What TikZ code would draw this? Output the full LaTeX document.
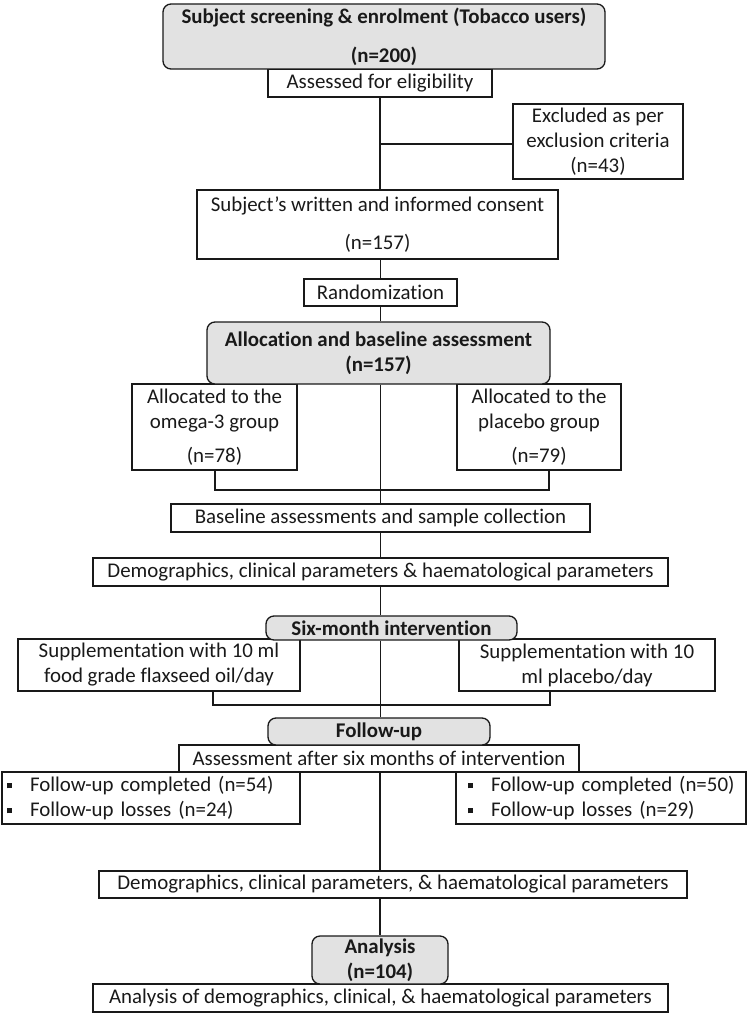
\documentclass[tikz,border=0pt]{standalone}
\usepackage{fontspec}
\setmainfont{Carlito}[Ligatures=NoCommon]
\definecolor{boxgray}{RGB}{226,226,226}
\definecolor{ink}{RGB}{25,25,25}
\tikzset{
  base/.style={draw=ink, line width=1.3pt, inner sep=2pt, align=center,
    font=\fontsize{20.9}{25}\selectfont, text=ink},
  plainbox/.style={base, rectangle},
  headbox/.style={base, rectangle, rounded corners=8pt, fill=boxgray,
    font=\fontsize{20.9}{25}\selectfont\bfseries},
  listbox/.style={base, rectangle, align=left},
  link/.style={draw=ink, line width=1.3pt},
}
\newcommand{\bul}{\raisebox{3pt}{\rule{5pt}{5pt}}\hspace{18pt}}
\begin{document}
\begin{tikzpicture}[x=1pt, y=-1pt]
\useasboundingbox (0,0) rectangle (750,1024);
% nodes
\node[plainbox, minimum width=224pt, minimum height=28pt] (assess) at (380,83) {Assessed for eligibility};
\node[headbox, minimum width=442pt, minimum height=65pt] (top) at (384,36.5) {Subject screening \& enrolment (Tobacco users)\\[14pt](n=200)};
\node[plainbox, minimum width=170pt, minimum height=75pt] (excl) at (598,141.5) {Excluded as per\\exclusion criteria\\(n=43)};
\node[plainbox, minimum width=361pt, minimum height=69pt] (consent) at (377.5,224.5) {Subject’s written and informed consent\\[13pt](n=157)};
\node[plainbox, minimum width=153pt, minimum height=27pt] (random) at (380.5,292.5) {Randomization};
\node[plainbox, minimum width=165pt, minimum height=86pt] (om3) at (214.5,427) {Allocated to the\\omega-3 group\\[9pt](n=78)};
\node[plainbox, minimum width=164pt, minimum height=86pt] (plac) at (539,427) {Allocated to the\\placebo group\\[9pt](n=79)};
\node[headbox, minimum width=343pt, minimum height=62pt] (alloc) at (378.5,353) {Allocation and baseline assessment\\(n=157)};
\node[plainbox, minimum width=419pt, minimum height=28pt] (baseline) at (380.5,518) {Baseline assessments and sample collection};
\node[plainbox, minimum width=575pt, minimum height=28pt] (demo1) at (380.5,572) {Demographics, clinical parameters \& haematological parameters};
\node[plainbox, minimum width=282pt, minimum height=52pt] (supL) at (159,665) {Supplementation with 10 ml\\food grade flaxseed oil/day};
\node[plainbox, minimum width=256pt, minimum height=52pt] (supR) at (587,665) {Supplementation with 10\\ml placebo/day};
\node[headbox, minimum width=251pt, minimum height=24pt] (six) at (391.5,628) {Six-month intervention};
\node[plainbox, minimum width=400pt, minimum height=27pt] (assess6) at (379,758.5) {Assessment after six months of intervention};
\node[headbox, minimum width=222pt, minimum height=27pt] (follow) at (379,731.5) {Follow-up};
\node[listbox, minimum width=298pt, minimum height=52pt, text width=288pt, inner xsep=5pt] (fuL) at (151,798) {\mbox{\bul Follow-up completed (n=54)}\\\mbox{\bul Follow-up losses (n=24)}};
\node[listbox, minimum width=290pt, minimum height=52pt, text width=266pt, inner xsep=12pt] (fuR) at (601,798) {\mbox{\bul Follow-up completed (n=50)}\\\mbox{\bul Follow-up losses (n=29)}};
\node[plainbox, minimum width=588pt, minimum height=27pt] (demo2) at (393,884.5) {Demographics, clinical parameters, \& haematological parameters};
\node[plainbox, minimum width=575pt, minimum height=28pt] (final) at (380.5,998) {Analysis of demographics, clinical, \& haematological parameters};
\node[headbox, minimum width=136pt, minimum height=48pt] (analysis) at (380,960) {Analysis\\(n=104)};
% coordinates on the spine
\coordinate (c1) at (380,144);
\coordinate (c2) at (215,490);
\coordinate (c3) at (549,490);
\coordinate (c4) at (213,705);
\coordinate (c5) at (550,705);
% connectors
\draw[link] (assess.south) -- (assess.south |- consent.north);
\draw[link] (c1) -- (excl.west |- c1);
\draw[link] (consent.south -| random.north) -- (random.north);
\draw[link] (random.south) -- (random.south |- alloc.north);
\draw[link] (alloc.south -| random.south) -- (random.south |- baseline.north);
\draw[link] (om3.south -| c2) -- (c2) -- (c3) -- (plac.south -| c3);
\draw[link] (baseline.south) -- (baseline.south |- demo1.north);
\draw[link] (demo1.south) -- (demo1.south |- six.north);
\draw[link] (six.south -| demo1.south) -- (demo1.south |- follow.north);
\draw[link] (supL.south -| c4) -- (c4) -- (c5) -- (supR.south -| c5);
\draw[link] (assess6.south -| analysis.north) -- (analysis.north |- demo2.north);
\draw[link] (demo2.south -| analysis.north) -- (analysis.north);
\end{tikzpicture}
\end{document}
